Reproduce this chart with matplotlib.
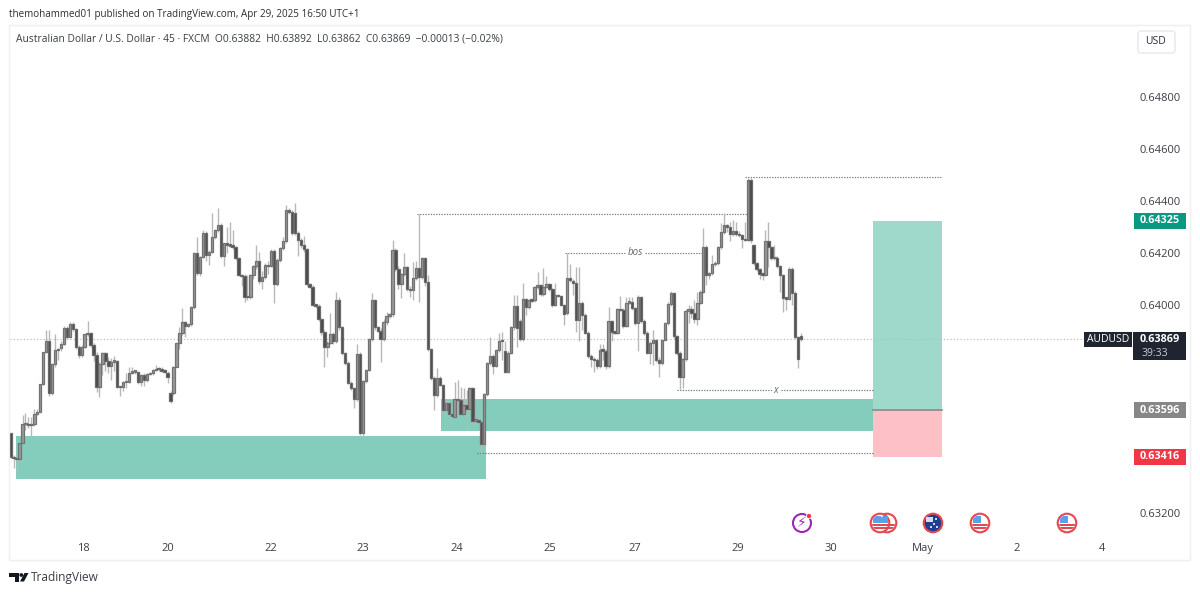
"""AUD/USD 45 minute candles with the TradingView chrome around them."""

import matplotlib
matplotlib.use("Agg")
import matplotlib.pyplot as plt
import numpy as np
from matplotlib.patches import Circle, FancyBboxPatch, Polygon, Rectangle

plt.rcParams["font.family"] = ["Open Sans", "DejaVu Sans"]

# prices are in points (price * 100000)
opens = [
    63509, 63417, 63410, 63406, 63468, 63541, 63541, 63538, 63541, 63581,
    63590, 63696, 63818, 63863, 63660, 63773, 63829, 63833, 63849, 63910,
    63876, 63927, 63906, 63837, 63808, 63837, 63888, 63891, 63846, 63808,
    63686, 63773, 63814, 63785, 63765, 63782, 63785, 63686, 63683, 63703,
    63705, 63740, 63744, 63744, 63705, 63731, 63712, 63733, 63737, 63750,
    63754, 63753, 63747, 63740, 63663, 63663, 63763, 63853, 63891, 63936,
    63921, 63926, 63991, 64199, 64122, 64186, 64276, 64192, 64205, 64263,
    64288, 64308, 64188, 64237, 64231, 64231, 64222, 64179, 64115, 64112,
    64032, 64030, 64115, 64150, 64170, 64094, 64106, 64154, 64150, 64209,
    64081, 64173, 64218, 64247, 64365, 64359, 64355, 64278, 64250, 64231,
    64214, 64081, 64071, 64000, 63998, 63945, 63897, 63837, 63855, 63887,
    63862, 64019, 63914, 63814, 63778, 63701, 63680, 63637, 63812, 63509,
    63709, 63750, 63868, 64019, 63914, 63901, 63868, 63936, 63958, 63964,
    64211, 64138, 64081, 64119, 64145, 64060, 64058, 64103, 64141, 64106,
    64181, 64090, 63829, 63721, 63654, 63721, 63692, 63596, 63624, 63581,
    63571, 63637, 63635, 63581, 63615, 63599, 63680, 63555, 63558, 63551,
    63465, 63658, 63776, 63804, 63765, 63827, 63863, 63825, 63744, 63817,
    63914, 63996, 63940, 63869, 64022, 63994, 64019, 64019, 64068, 64077,
    64042, 64071, 64081, 64060, 64000, 64038, 64035, 64000, 63968, 64103,
    64094, 64086, 63942, 64009, 63962, 63894, 63804, 63791, 63788, 63765,
    63827, 63824, 63765, 63937, 63896, 63894, 63983, 63981, 63919, 64009,
    64013, 63987, 63932, 64032, 63940, 63894, 63817, 63853, 63865, 63788,
    63776, 63865, 63929, 64004, 64045, 63881, 63814, 63724, 63792, 63978,
    63983, 63968, 63945, 64009, 64051, 64224, 64115, 64122, 64158, 64163,
    64222, 64282, 64308, 64301, 64273, 64286, 64273, 64269, 64253, 64250,
    64481, 64231, 64160, 64137, 64119, 64117, 64247, 64222, 64179, 64182,
    64150, 64115, 64026, 64024, 64140, 64047, 63876, 63882,
]
closes = [
    63417, 63410, 63406, 63468, 63541, 63541, 63538, 63541, 63581, 63590,
    63696, 63818, 63863, 63660, 63773, 63827, 63827, 63849, 63910, 63876,
    63927, 63906, 63837, 63808, 63837, 63888, 63891, 63846, 63808, 63686,
    63773, 63814, 63785, 63765, 63782, 63785, 63686, 63683, 63703, 63705,
    63740, 63744, 63744, 63705, 63731, 63712, 63733, 63737, 63750, 63754,
    63753, 63747, 63744, 63722, 63632, 63763, 63853, 63891, 63936, 63921,
    63926, 63991, 64199, 64122, 64186, 64276, 64192, 64205, 64263, 64288,
    64308, 64188, 64237, 64231, 64228, 64222, 64179, 64115, 64112, 64032,
    64030, 64115, 64150, 64170, 64094, 64106, 64154, 64150, 64209, 64081,
    64173, 64218, 64247, 64365, 64359, 64278, 64278, 64250, 64231, 64214,
    64081, 64071, 64000, 63998, 63945, 63897, 63837, 63855, 63887, 63862,
    64019, 63914, 63814, 63778, 63701, 63680, 63637, 63812, 63509, 63709,
    63750, 63868, 64019, 63914, 63901, 63868, 63936, 63958, 63964, 64211,
    64138, 64081, 64119, 64145, 64060, 64058, 64103, 64141, 64106, 64181,
    64090, 63829, 63721, 63654, 63721, 63692, 63596, 63624, 63581, 63573,
    63637, 63635, 63581, 63615, 63599, 63680, 63555, 63560, 63551, 63465,
    63658, 63776, 63804, 63765, 63827, 63863, 63861, 63744, 63817, 63914,
    63996, 63910, 63869, 64022, 63994, 64019, 64017, 64068, 64077, 64042,
    64071, 64081, 64060, 64000, 64038, 64035, 64000, 63965, 64103, 64096,
    64086, 63942, 64009, 63962, 63894, 63804, 63791, 63788, 63765, 63827,
    63824, 63765, 63937, 63896, 63894, 63983, 63981, 63919, 64009, 64013,
    63987, 63932, 64032, 63940, 63894, 63817, 63853, 63865, 63788, 63776,
    63865, 63929, 64004, 64045, 63881, 63814, 63724, 63792, 63978, 63983,
    63968, 63945, 64009, 64051, 64224, 64115, 64122, 64158, 64163, 64222,
    64282, 64308, 64301, 64273, 64286, 64273, 64269, 64253, 64250, 64481,
    64250, 64160, 64137, 64119, 64117, 64247, 64222, 64179, 64182, 64150,
    64115, 64026, 64024, 64140, 64047, 63876, 63792, 63869,
]
highs = [
    63509, 63425, 63412, 63470, 63577, 63583, 63570, 63570, 63600, 63600,
    63698, 63820, 63905, 63905, 63776, 63888, 63836, 63860, 63920, 63918,
    63933, 63933, 63910, 63845, 63845, 63890, 63937, 63895, 63852, 63818,
    63780, 63820, 63820, 63800, 63795, 63805, 63790, 63690, 63709, 63740,
    63760, 63760, 63748, 63748, 63735, 63740, 63738, 63742, 63755, 63770,
    63760, 63762, 63752, 63748, 63670, 63765, 63855, 63915, 63990, 63940,
    63932, 63995, 64202, 64260, 64190, 64290, 64285, 64210, 64352, 64292,
    64372, 64315, 64240, 64300, 64320, 64290, 64228, 64185, 64118, 64118,
    64115, 64118, 64155, 64230, 64205, 64130, 64160, 64170, 64215, 64215,
    64180, 64225, 64260, 64385, 64372, 64365, 64391, 64285, 64258, 64265,
    64220, 64086, 64076, 64005, 64002, 63950, 63902, 63860, 63968, 63895,
    64051, 64030, 63920, 63820, 63785, 63706, 63684, 63849, 63818, 63712,
    63755, 63872, 64045, 64025, 63920, 63912, 63945, 63975, 63970, 64250,
    64218, 64150, 64125, 64199, 64150, 64075, 64167, 64170, 64350, 64186,
    64186, 64115, 63835, 63726, 63756, 63726, 63697, 63630, 63630, 63586,
    63705, 63712, 63686, 63680, 63673, 63685, 63685, 63620, 63565, 63620,
    63662, 63780, 63878, 63810, 63832, 63891, 63896, 63860, 63822, 63918,
    64040, 64040, 63945, 64083, 64028, 64024, 64024, 64072, 64128, 64082,
    64141, 64110, 64086, 64065, 64083, 64042, 64040, 64005, 64199, 64158,
    64100, 64147, 64147, 64015, 63968, 63900, 63810, 63800, 63795, 63850,
    63850, 63830, 63994, 63942, 63900, 63988, 64035, 63988, 64030, 64030,
    64030, 63992, 64038, 64036, 63945, 63900, 63860, 63905, 63870, 63800,
    63870, 63935, 64010, 64055, 64050, 63886, 63825, 63798, 63983, 64000,
    63998, 64019, 64050, 64058, 64295, 64230, 64128, 64192, 64170, 64228,
    64314, 64353, 64312, 64320, 64327, 64318, 64285, 64275, 64320, 64490,
    64490, 64236, 64165, 64143, 64125, 64288, 64320, 64228, 64230, 64188,
    64155, 64120, 64030, 64146, 64146, 64053, 63882, 63892,
]
lows = [
    63410, 63373, 63353, 63400, 63495, 63521, 63528, 63495, 63535, 63578,
    63588, 63694, 63815, 63650, 63655, 63763, 63790, 63825, 63845, 63870,
    63872, 63900, 63832, 63795, 63800, 63833, 63880, 63840, 63785, 63665,
    63647, 63730, 63745, 63740, 63710, 63745, 63680, 63650, 63670, 63680,
    63700, 63735, 63735, 63695, 63690, 63690, 63705, 63730, 63732, 63745,
    63745, 63742, 63738, 63700, 63625, 63655, 63760, 63830, 63885, 63878,
    63915, 63920, 63985, 64115, 64110, 64180, 64170, 64154, 64200, 64255,
    64280, 64180, 64150, 64200, 64222, 64215, 64172, 64110, 64075, 64010,
    64019, 64025, 64100, 64140, 64080, 64060, 64100, 64120, 64145, 64009,
    64075, 64165, 64210, 64240, 64350, 64270, 64270, 64190, 64220, 64205,
    64075, 64065, 63995, 63990, 63938, 63885, 63763, 63800, 63850, 63850,
    63855, 63905, 63808, 63770, 63695, 63675, 63605, 63630, 63500, 63494,
    63700, 63745, 63860, 63905, 63895, 63782, 63860, 63925, 63950, 63955,
    64130, 64060, 64026, 64110, 64052, 64030, 64020, 64095, 64010, 64100,
    64075, 63822, 63710, 63596, 63648, 63688, 63590, 63590, 63575, 63568,
    63565, 63590, 63575, 63575, 63519, 63590, 63548, 63550, 63546, 63430,
    63458, 63650, 63770, 63735, 63760, 63820, 63790, 63738, 63738, 63810,
    63905, 63840, 63862, 63862, 63960, 63985, 64012, 64012, 64062, 64036,
    64036, 64065, 64052, 63992, 63995, 64030, 63995, 63923, 63962, 64090,
    64040, 63895, 63860, 63904, 63888, 63798, 63760, 63744, 63755, 63758,
    63790, 63755, 63758, 63860, 63888, 63888, 63976, 63912, 63915, 64005,
    63980, 63925, 63825, 63930, 63885, 63810, 63773, 63770, 63780, 63724,
    63770, 63860, 63925, 63998, 63875, 63808, 63678, 63680, 63786, 63930,
    63950, 63930, 63925, 64002, 64045, 64077, 64100, 64115, 64150, 64155,
    64216, 64275, 64280, 64245, 64265, 64265, 64262, 64220, 64245, 64245,
    64240, 64154, 64130, 64100, 64095, 64110, 64147, 64173, 64172, 64144,
    64051, 63974, 63980, 64018, 64000, 63870, 63756, 63862,
]

# time axis, positions are bar numbers
day_bars = [24.5, 53, 88, 119, 150.7, 182, 211, 245.7, 277, 308.3, 340, 368.7]
day_labels = ["18", "20", "22", "23", "24", "25", "27", "29", "30", "May", "2", "4"]
# 0.634, 0.636 and 0.638 sit behind the price boxes
price_ticks = [0.632, 0.640, 0.642, 0.644, 0.646, 0.648]

last_price = 0.63869
target_price = 0.64325
entry_price = 0.63596
stop_price = 0.63416

# x0, x1, top, bottom of the demand zones
zones = [(1.8, 160.6, 0.63496, 0.63331), (145.4, 291.3, 0.63638, 0.63515)]
position_bars = (291.3, 314.6)

# x0, x1, price of the dotted levels
levels = [
    (137.3, 249.0, 0.64350),
    (248.0, 314.6, 0.64492),
    (187.3, 233.9, 0.64201),
    (225.0, 291.3, 0.63673),
    (157.4, 291.3, 0.63432),
]

# layout in pixels of the 1200x594 picture
PANEL_L, PANEL_R, PANEL_T, PANEL_B = 10, 1134, 26, 560
BAR_PX = 2.96
FIRST_BAR_PX = 10.67
PRICE_Y0, PRICE_PX = 305, 26000  # y of 0.64 and pixels per 1.0 of price


def price_y(price):
    return PRICE_Y0 + (0.64 - price) * PRICE_PX


fig = plt.figure(figsize=(12, 5.94), dpi=100, facecolor="white")
ax = fig.add_axes([PANEL_L / 1200, 1 - PANEL_B / 594,
                   (PANEL_R - PANEL_L) / 1200, (PANEL_B - PANEL_T) / 594])
ax.set_xlim((PANEL_L - FIRST_BAR_PX) / BAR_PX, (PANEL_R - FIRST_BAR_PX) / BAR_PX)
ax.set_ylim(0.64 - (PANEL_B - PRICE_Y0) / PRICE_PX, 0.64 + (PRICE_Y0 - PANEL_T) / PRICE_PX)
for spine in ax.spines.values():
    spine.set_visible(False)

ax.yaxis.tick_right()
ax.set_yticks(price_ticks)
ax.set_yticklabels([f"{p:.5f}" for p in price_ticks], fontsize=8, color="#3a3e47")
ax.tick_params(axis="y", length=0, pad=4)
ax.set_xticks(day_bars)
ax.set_xticklabels(day_labels, fontsize=8, color="#3a3e47")
ax.tick_params(axis="x", length=0, pad=-12)

# zones sit under the candles
for x0, x1, top_price, bottom_price in zones:
    ax.add_patch(Rectangle((x0, bottom_price), x1 - x0, top_price - bottom_price,
                           fc="#84cdbd", ec="none", zorder=1))
ax.add_patch(Rectangle((position_bars[0], entry_price), position_bars[1] - position_bars[0],
                       target_price - entry_price, fc="#9fd9cc", ec="none", zorder=1))
ax.add_patch(Rectangle((position_bars[0], stop_price), position_bars[1] - position_bars[0],
                       entry_price - stop_price, fc="#fcc0c6", ec="none", zorder=1))
ax.plot(position_bars, [entry_price, entry_price], color="#8a8a8a", lw=1.2, zorder=2)

ax.axhline(last_price, color="#b5b5b5", lw=0.8, ls=(0, (1, 2)), zorder=1.5)
for x0, x1, level in levels:
    ax.plot([x0, x1], [level, level], color="#777777", lw=0.8, ls=(0, (1.2, 1.2)), zorder=2)
ax.text(211, 0.64201, "bos", fontsize=7, style="italic", color="#666666", ha="center",
        va="center", bbox=dict(fc="white", ec="none", pad=1.5), zorder=3)
ax.text(258.5, 0.63673, "x", fontsize=7, style="italic", color="#666666", ha="center",
        va="center", bbox=dict(fc="white", ec="none", pad=1), zorder=3)

bars = np.arange(len(closes))
o = np.array(opens) / 1e5
c = np.array(closes) / 1e5
h = np.array(highs) / 1e5
l = np.array(lows) / 1e5
up = c >= o
ax.vlines(bars, l, h, color="#b8b8b8", lw=1.0, zorder=4)
body = np.maximum(np.abs(c - o), 0.00005)
ax.bar(bars[up], body[up], bottom=np.minimum(o, c)[up], width=0.8,
       color="#9a9a9a", edgecolor="#727272", linewidth=0.9, zorder=5)
ax.bar(bars[~up], body[~up], bottom=np.minimum(o, c)[~up], width=0.8,
       color="#4a4a4a", edgecolor="#6a6a6a", linewidth=0.9, zorder=5)

# chrome drawn in picture pixels on top of everything
top = fig.add_axes([0, 0, 1, 1], facecolor="none")
top.set_xlim(0, 1200)
top.set_ylim(594, 0)
top.axis("off")

top.add_patch(Rectangle((9, 25), 1181, 535, fc="none", ec="#efefef", lw=1))
top.text(9, 14, "themohammed01 published on TradingView.com, Apr 29, 2025 16:50 UTC+1",
         fontsize=7.15, color="#2f2f2f", va="center")
top.text(16, 39, "Australian Dollar / U.S. Dollar · 45 · FXCM  O0.63882  H0.63892  L0.63862"
         "  C0.63869  −0.00013 (−0.02%)", fontsize=7.4, color="#3a3e47", va="center")

top.add_patch(FancyBboxPatch((1138, 31), 37, 22, boxstyle="round,pad=0,rounding_size=3",
                             fc="white", ec="#e6e8ee", lw=1))
top.text(1156, 42, "USD", fontsize=7.5, color="#2a2e39", ha="center", va="center")


def price_box(price, text, color):
    y = price_y(price)
    top.add_patch(Rectangle((1134, y - 8), 52, 16, fc=color, ec="none", zorder=6))
    top.text(1160, y, text, color="white", fontsize=7.8, fontweight="bold",
             ha="center", va="center", zorder=7)


price_box(target_price, "0.64325", "#089981")
price_box(entry_price, "0.63596", "#878787")
price_box(stop_price, "0.63416", "#f23645")

ly = price_y(last_price)
top.add_patch(Rectangle((1084, ly - 7), 48, 15, fc="#1f2430", ec="none", zorder=6))
top.text(1108, ly, "AUDUSD", color="white", fontsize=7.5, ha="center", va="center", zorder=7)
top.add_patch(Rectangle((1133, ly - 7), 53, 28, fc="#1f2430", ec="none", zorder=6))
top.text(1160, ly + 0.5, "0.63869", color="white", fontsize=7.8, fontweight="bold",
         ha="center", va="center", zorder=7)
top.text(1141, ly + 14, "39:33", color="#c9ccd3", fontsize=7.5, va="center", zorder=7)


def flag(x, y=523):
    ring = Circle((x, y), 9.3, fc="white", ec="#e5484f", lw=1.5, zorder=3)
    top.add_patch(ring)
    for sy in (y + 0.5, y + 4):
        stripe = Rectangle((x - 8, sy), 16, 2, fc="#e5484f", ec="none", zorder=4)
        top.add_patch(stripe)
        stripe.set_clip_path(Circle((x, y), 8, transform=top.transData))
    canton = Rectangle((x - 7, y - 7), 8, 7, fc="#5aa2e6", ec="none", zorder=4)
    top.add_patch(canton)
    canton.set_clip_path(Circle((x, y), 8, transform=top.transData))


flag(887)
flag(880)
flag(980)
flag(1067)

top.add_patch(Circle((933, 523), 9.3, fc="#1c3f94", ec="#e5484f", lw=1.5, zorder=3))
top.add_patch(Rectangle((926, 517), 7, 5, fc="#d8dbe6", ec="none", zorder=4))
for sx, sy in [(936, 519), (931, 527), (937, 527), (934, 524)]:
    top.add_patch(Circle((sx, sy), 1, fc="white", ec="none", zorder=4))

top.add_patch(Circle((802, 523), 9, fc="white", ec="#9c27b0", lw=1.5, zorder=3))
top.text(802, 523.5, "⚡", family="DejaVu Sans", fontsize=10, color="#9c27b0",
         ha="center", va="center", zorder=4)
top.add_patch(Circle((809, 516), 2.6, fc="#f23645", ec="white", lw=0.6, zorder=5))

# logo
top.add_patch(Polygon([(9.3, 573), (19, 573), (19, 581.5), (14.5, 581.5), (14.5, 576.5), (9.3, 576.5)],
                      fc="#131722", ec="none"))
top.add_patch(Circle((21.3, 575), 1.9, fc="#131722", ec="none"))
top.add_patch(Polygon([(24.5, 573), (28.5, 573), (24, 581.5), (20, 581.5)], fc="#131722", ec="none"))
top.text(31, 577, "TradingView", fontsize=8.6, color="#3a3e47", va="center")

fig.savefig("out.png", dpi=100)
